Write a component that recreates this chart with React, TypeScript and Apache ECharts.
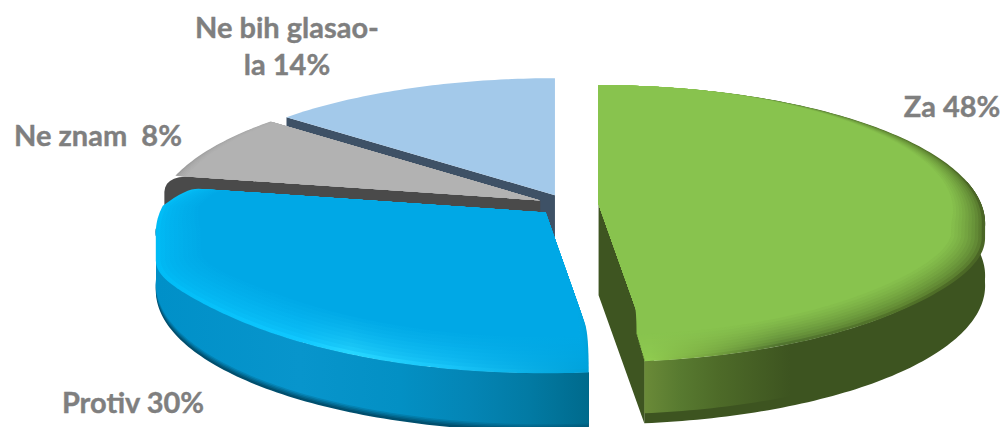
import React, { useEffect, useRef } from "react";
import * as echarts from "echarts";

const categories = ["Za", "Protiv", "Ne znam", "Ne bih glasao-la"];
const sliceValues = [48, 30, 8, 14];
const labelTexts = ["Za 48%", "Protiv 30%", "Ne znam  8%", "Ne bih glasao-\nla 14%"];
const drawOrder = [3, 2, 1, 0];

type P = [number, number];
type Stop = [number, string];

const Cx = 568, Cy = 205, A = 383, B = 136, K = 0.14, EX = 0.08;
const rad = (a: number) => (a * Math.PI) / 180;
const lerp = (a: P, b: P, t: number): P => [a[0] + (b[0] - a[0]) * t, a[1] + (b[1] - a[1]) * t];
const quad = (a: P, c: P, b: P, n = 8): P[] => {
  const out: P[] = [];
  for (let i = 1; i <= n; i++) out.push(lerp(lerp(a, c, i / n), lerp(c, b, i / n), i / n));
  return out;
};
const hex = (c: string) => [1, 3, 5].map((i) => parseInt(c.slice(i, i + 2), 16));
const mix = (a: string, b: string, t: number) => {
  const x = hex(a), y = hex(b);
  return "rgb(" + x.map((v, i) => Math.round(v + (y[i] - v) * t)).join(",") + ")";
};
const grad = (x0: number, x1: number, stops: Stop[]) =>
  new echarts.graphic.LinearGradient(
    x0, 0, x1, 0,
    stops.map(([x, color]) => ({ offset: (x - x0) / (x1 - x0), color })),
    true
  );

interface Look {
  base: string; rim: Stop[]; inner: number; layers: number; depth: number;
  wall: Stop[]; wallDark: string; wallBand: number; face: string; faceDrop: number;
  extra: number; roundStart: number; roundEnd: number; dStart: number; dEnd: number;
}
const looks: Look[] = [
  { base: "#88c34e", inner: 0.85, layers: 10, depth: 62, extra: 15, wallDark: "#3d5420", wallBand: 10, face: "#3e5521", faceDrop: 91,
    rim: [[598, "#92ce50"], [650, "#90cc50"], [700, "#7cac43"], [780, "#527530"], [900, "#527329"], [985, "#4a6525"]],
    wall: [[645, "#6a8a38"], [680, "#587a30"], [720, "#4d6a28"], [790, "#3d5420"], [985, "#3d5420"]],
    roundStart: 0, roundEnd: 0.22, dStart: 0, dEnd: -1.3 },
  { base: "#00a8e6", inner: 0.8, layers: 10, depth: 58, extra: 30, wallDark: "#004f6e", wallBand: 6, face: "#005f80", faceDrop: 60,
    rim: [[157, "#00bcf6"], [300, "#10c8ff"], [350, "#26d6ff"], [450, "#18c4f8"], [590, "#00a0d8"]],
    wall: [[157, "#0090c8"], [300, "#0895cc"], [400, "#0390c4"], [470, "#0485b5"], [530, "#027aa3"], [590, "#006a8c"]],
    roundStart: 0.3, roundEnd: 0.06, dStart: 1.7, dEnd: 8 },
  { base: "#b2b2b2", inner: 0.93, layers: 5, depth: 60, extra: 0, wallDark: "#4a4a4a", wallBand: 0, face: "#4a4a4a", faceDrop: 60,
    rim: [[170, "#9c9c9c"], [270, "#aaaaaa"]], wall: [[157, "#4a4a4a"], [590, "#4a4a4a"]],
    roundStart: 0, roundEnd: 0, dStart: 0, dEnd: 0 },
  { base: "#a3c9ea", inner: 1, layers: 0, depth: 60, extra: 0, wallDark: "#3e5166", wallBand: 0, face: "#3e5166", faceDrop: 91,
    rim: [[270, "#a3c9ea"], [555, "#a3c9ea"]], wall: [[270, "#3e5166"], [555, "#3e5166"]],
    roundStart: 0, roundEnd: 0, dStart: 0, dEnd: 0 },
];

const point = (mid: number, th: number, r: number, extra = 0): P => {
  const ou = EX * Math.sin(rad(mid));
  const ru = r * Math.sin(rad(th));
  const d = -EX * Math.cos(rad(mid)) - r * Math.cos(rad(th));
  const w = 1 - K * d;
  return [Cx + A * (ou + ru / w), Cy + (B * d) / w + extra];
};

// point on the radial edge apex-k whose x is the x of q: makes the rounded corner meet the wall vertically
const onEdgeAtX = (apex: P, k: P, q: P): P => lerp(apex, k, (q[0] - apex[0]) / (k[0] - apex[0]));

const outline = (start: number, end: number, look: Look, inner: number, idx: number): P[] => {
  const mid = (start + end) / 2;
  const weight = (t: number) => Math.pow(Math.sin(rad(t / 2)), 2);
  const front = (t: number) => (Math.cos(rad(t)) < -0.14 ? 1 : 0);
  const at = (t: number) => {
    const r = 1 - (1 - inner) * weight(t);
    const extra = look.extra * front(t) * Math.pow(Math.abs(Math.sin(rad(t))), 10);
    return point(mid, t, r, extra * r);
  };
  const apex = point(mid, 0, 0);
  const pts: P[] = [apex];
  const a0 = start + look.dStart, a1 = end - look.dEnd;
  if (look.roundStart > 0) {
    const k = at(start);
    const p0 = lerp(apex, k, 1 - look.roundStart);
    pts.push(p0, ...quad(p0, onEdgeAtX(apex, k, at(a0)), at(a0)));
  } else pts.push(at(start));
  for (let t = a0; t <= a1; t += 1) pts.push(at(t));
  if (look.roundEnd > 0) {
    const k = at(end);
    const p1 = lerp(apex, k, 1 - look.roundEnd);
    const last = at(a1);
    const c = idx === 0 ? onEdgeAtX(apex, k, last) : lerp(apex, k, 1 - look.roundEnd * 0.45);
    pts.push(last, ...quad(last, c, p1));
  } else pts.push(at(end));
  return pts;
};

const shiftArc = (mid: number, a: number, b: number, depth: number): P[] => {
  const top: P[] = [];
  const n = Math.ceil(Math.abs(b - a));
  for (let i = 0; i <= n; i++) top.push(point(mid, a + ((b - a) * i) / n, 1));
  const low = top.map(([x, y]) => [x, y + depth] as P).reverse();
  return [...top, ...low];
};

const renderSlice = (_: unknown, api: any) => {
  const start = api.value(0), value = api.value(1), idx = api.value(2);
  const end = start + (value / 100) * 360;
  const mid = (start + end) / 2;
  const look = looks[idx];
  const D = look.depth;
  const order = drawOrder.indexOf(idx);
  const kids: any[] = [];
  let z = order * 100;
  const add = (points: P[], fill: unknown) =>
    kids.push({ type: "polygon", silent: true, z2: z++, shape: { points }, style: { fill } });

  const apex = point(mid, 0, 0);
  if (idx === 0 || idx === 3) {
    const k = point(mid, idx === 0 ? end : start, 1);
    const a = idx === 0 ? point(mid, end - look.dEnd, 1) : k;
    add([apex, k, a, [a[0], a[1] + D], [apex[0], apex[1] + look.faceDrop]], look.face);
  }
  if (idx === 2) {
    const k = point(mid, start, 1);
    const p = lerp(apex, k, 0.93);
    add(
      [apex, p, ...quad(p, [k[0] - 10, k[1] - 3], [k[0] - 11, k[1] + 16]), [k[0] - 11, k[1] + D], [apex[0], apex[1] + D]],
      look.face
    );
  }
  if (idx === 0) {
    const b = end - look.dEnd;
    add(shiftArc(mid, 80, b, D), look.wallDark);
    add(shiftArc(mid, 80, b, D - look.wallBand), grad(645, 985, look.wall));
  }
  if (idx === 1) {
    const a = start + look.dStart, b = 264;
    add(shiftArc(mid, a, b, D), look.wallDark);
    for (let i = 1; i <= 4; i++) {
      const s = look.wall.map(([x, c]) => [x, mix(look.wallDark, c, i / 4)] as Stop);
      add(shiftArc(mid, a, b, D - (i * look.wallBand) / 4 - 1), grad(157, 590, s));
    }
  }
  for (let i = 0; i <= look.layers; i++) {
    const t = look.layers ? i / look.layers : 1;
    const inner = 1 - (1 - look.inner) * t;
    const fade = Math.pow(t, 0.6);
    const stops = look.rim.map(([x, c]) => [x, mix(c, look.base, fade)] as Stop);
    const x0 = look.rim[0][0], x1 = look.rim[look.rim.length - 1][0];
    add(outline(start, end, look, inner, idx), i === look.layers ? look.base : grad(x0, x1, stops));
  }
  return { type: "group", children: kids };
};

const starts: number[] = [];
sliceValues.reduce((sum, v, i) => {
  starts[i] = sum;
  return sum + (v / 100) * 360;
}, 0);
const seriesData = drawOrder.map((i) => ({ name: categories[i], value: [starts[i], sliceValues[i], i] }));

const labelSpots = [
  { x: 952, y: 105 },
  { x: 133, y: 401 },
  { x: 98, y: 134 },
  { x: 287, y: 45 },
];

export default function App() {
  const ref = useRef<HTMLDivElement>(null);
  useEffect(() => {
    const chart = echarts.init(ref.current!, undefined, { renderer: "svg" });
    chart.setOption({
      animation: false,
      backgroundColor: "#ffffff",
      graphic: labelTexts.map((text, i) => ({
        type: "text",
        x: labelSpots[i].x,
        y: labelSpots[i].y,
        z: 10,
        style: {
          text,
          fill: "#7f7f7f",
          stroke: "#7f7f7f",
          lineWidth: 0.4,
          font: 'bold 29px Lato, "Open Sans", sans-serif',
          align: "center",
          verticalAlign: "middle",
          lineHeight: 37,
        },
      })),
      series: [{ type: "custom", coordinateSystem: "none", renderItem: renderSlice, data: seriesData, silent: true }],
    });
    return () => chart.dispose();
  }, []);
  return <div ref={ref} style={{ position: "fixed", left: 0, top: 0, width: 1003, height: 427 }} />;
}
